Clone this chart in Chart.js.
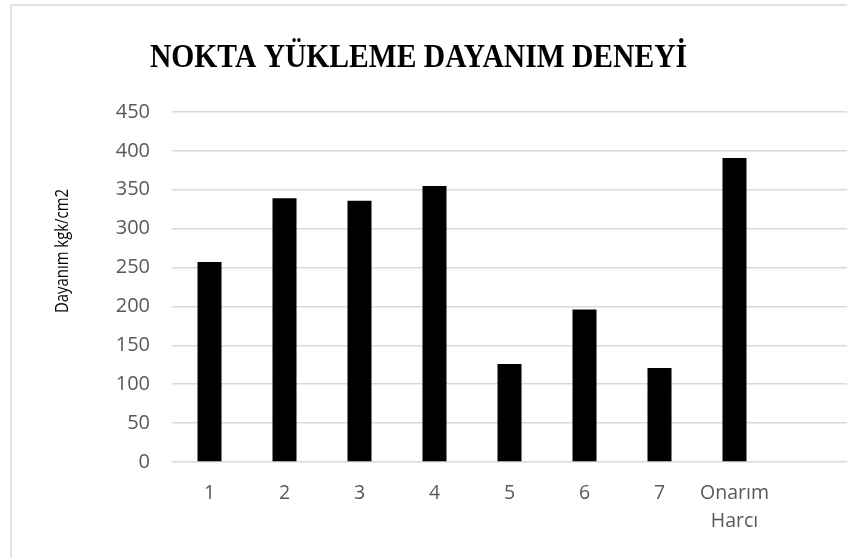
<!DOCTYPE html>
<html lang="tr">
<head>
<meta charset="UTF-8">
<title>NOKTA YÜKLEME DAYANIM DENEYİ</title>
<script src="https://cdn.jsdelivr.net/npm/chart.js"></script>
<style>
  html, body { margin: 0; padding: 0; background: #fff; overflow: hidden; }
  #wrap { width: 847px; height: 558px; position: relative; }
</style>
</head>
<body>
<div id="wrap"><canvas id="chart"></canvas></div>
<script>
// Veriler
const categories = ['1', '2', '3', '4', '5', '6', '7', ['Onarım', 'Harcı'], ''];
const dayanim = [257, 339, 336, 355, 126, 196, 121, 391, null];
const yTicks = [0, 50, 100, 150, 200, 250, 300, 350, 400, 450];

const chartTitle = 'NOKTA YÜKLEME DAYANIM DENEYİ';
const yTitle = 'Dayanım kgk/cm2';

// Çerçeve, başlık ve eksen başlığı
const decor = {
  id: 'decor',
  beforeDraw(chart) {
    const ctx = chart.ctx;
    ctx.save();
    ctx.fillStyle = '#fff';
    ctx.fillRect(0, 0, chart.width, chart.height);
    ctx.strokeStyle = '#d9d9d9';
    ctx.lineWidth = 1.5;
    ctx.strokeRect(11, 5, chart.width + 20, chart.height + 20);
    ctx.restore();
  },
  afterDraw(chart) {
    const ctx = chart.ctx;
    ctx.save();
    ctx.fillStyle = '#000';
    ctx.font = 'bold 33px "Liberation Serif", "Times New Roman", serif';
    ctx.textAlign = 'left';
    ctx.textBaseline = 'alphabetic';
    ctx.fillText(chartTitle, 150, 67, 537);

    ctx.translate(63, 251);
    ctx.rotate(-Math.PI / 2);
    ctx.font = '18px "Open Sans", sans-serif';
    ctx.textAlign = 'center';
    ctx.textBaseline = 'middle';
    ctx.fillText(yTitle, 0, 0, 124);
    ctx.restore();
  }
};

new Chart(document.getElementById('chart'), {
  type: 'bar',
  data: {
    labels: categories,
    datasets: [{
      data: dayanim,
      backgroundColor: '#000',
      barPercentage: 0.32,
      categoryPercentage: 1
    }]
  },
  options: {
    responsive: true,
    maintainAspectRatio: false,
    animation: false,
    layout: { padding: { top: 112, left: 0, right: 0, bottom: 0 } },
    plugins: {
      legend: { display: false },
      title: { display: false },
      tooltip: { enabled: false }
    },
    scales: {
      x: {
        grid: { display: false, drawTicks: false },
        border: { display: false },
        ticks: {
          color: '#595959',
          font: { family: '"Open Sans", sans-serif', size: 19.5, lineHeight: 1.4 },
          padding: 18,
          maxRotation: 0,
          autoSkip: false
        },
        afterFit(scale) { scale.height = 96; }
      },
      y: {
        min: 0,
        max: 450,
        grid: { color: '#d9d9d9', lineWidth: 1.5, drawTicks: false },
        border: { display: false },
        afterBuildTicks(scale) { scale.ticks = yTicks.map(v => ({ value: v })); },
        ticks: {
          color: '#595959',
          font: { family: '"Open Sans", sans-serif', size: 20 },
          padding: 22
        },
        afterFit(scale) { scale.width = 172; }
      }
    }
  },
  plugins: [decor]
});
</script>
</body>
</html>
